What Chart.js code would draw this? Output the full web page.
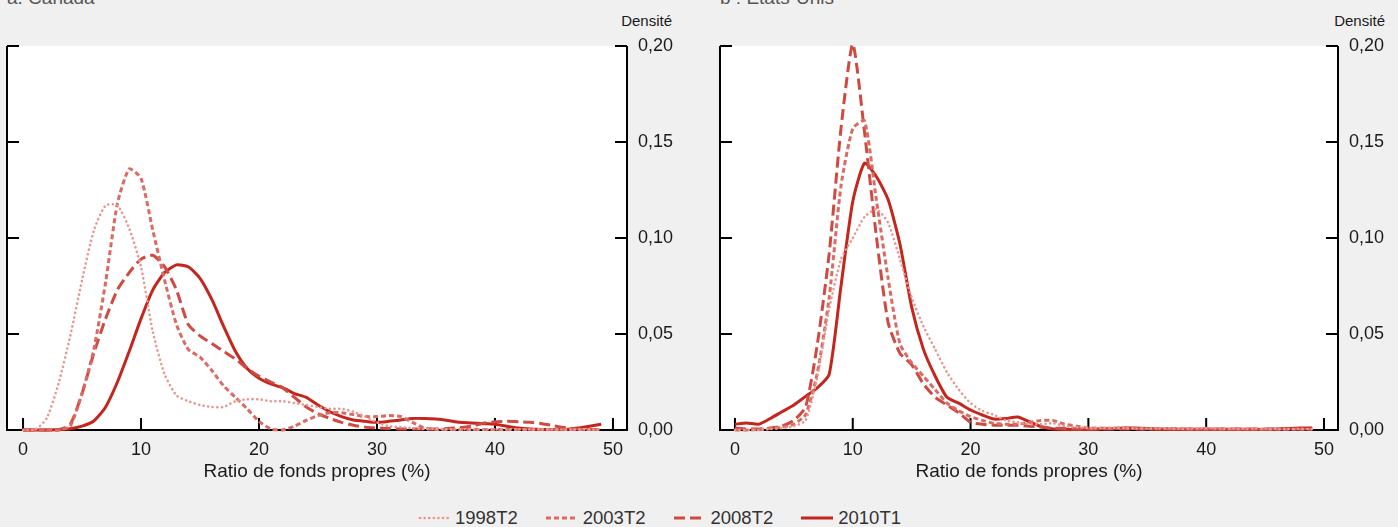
<!DOCTYPE html>
<html>
<head>
<meta charset="utf-8">
<script src="https://cdn.jsdelivr.net/npm/chart.js@4.4.0/dist/chart.umd.min.js"></script>
<style>
  body { margin: 0; background: #f0f0f0; width: 1398px; height: 527px; overflow: hidden; position: relative;
         font-family: "Liberation Sans", Arial, sans-serif; }
  canvas { position: absolute; top: 0; }
  .title { position: absolute; top: -12px; font-size: 19px; line-height: 1; color: #555; }
  .unit { position: absolute; top: 13px; font-size: 15px; line-height: 1; color: #1a1a1a; text-align: right; }
  #legend { position: absolute; left: 418px; top: 509px; display: flex; align-items: center; font-size: 18.5px; color: #333; line-height: 1; }
  #legend .item { display: flex; align-items: center; margin-right: 28px; }
  #legend svg { margin-right: 5px; }
</style>
</head>
<body>
<div class="title" style="left:7px">a. Canada</div>
<div class="title" style="left:720px">b : États-Unis</div>
<div class="unit" style="right:726px">Densité</div>
<div class="unit" style="right:13px">Densité</div>
<canvas id="canada" width="699" height="490" style="left:0"></canvas>
<canvas id="usa" width="699" height="490" style="left:699px"></canvas>
<div id="legend"></div>
<script>
// abscisses : ratio de fonds propres (%)
const ratios = [0, 1, 2, 3, 4, 5, 6, 7, 8, 9, 10, 11, 12, 13, 14, 15, 16, 17, 18, 19,
  20, 21, 22, 23, 24, 25, 26, 27, 28, 29, 30, 31, 32, 33, 34, 35, 36, 37, 38, 39,
  40, 41, 42, 43, 44, 45, 46, 47, 48, 49];

const xTicks = [0, 10, 20, 30, 40, 50];
const yTicks = [0, 0.05, 0.10, 0.15, 0.20];

const periods = ['1998T2', '2003T2', '2008T2', '2010T1'];

// a. Canada
const ca1998 = [0, 0, 0.006, 0.024, 0.049, 0.078, 0.104, 0.117, 0.117, 0.105, 0.085, 0.051, 0.029, 0.018, 0.015, 0.013, 0.012, 0.012, 0.015, 0.016,
  0.016, 0.015, 0.015, 0.014, 0.013, 0.012, 0.011, 0.011, 0.0095, 0.007, 0.004, 0.002, 0.0015, 0.001, 0.0005, 0.0005, 0.0004, 0.0004, 0.0003, 0.0003,
  0.0003, 0.0003, 0.0003, 0.0003, 0.0003, 0.0003, 0.0002, 0.0002, 0.0002, 0.0002];
const ca2003 = [0, 0, 0, 0, 0.002, 0.019, 0.042, 0.077, 0.118, 0.136, 0.131, 0.104, 0.078, 0.055, 0.042, 0.038, 0.031, 0.023, 0.017, 0.011,
  0.0045, 0.0005, 0, 0.002, 0.005, 0.0075, 0.009, 0.009, 0.008, 0.007, 0.007, 0.0075, 0.007, 0.004, 0.001, 0.0003, 0.0002, 0.0002, 0.0002, 0.0002,
  0.0002, 0.0002, 0.0002, 0.0002, 0.0002, 0.0002, 0.0002, 0.0002, 0.0002, 0.0002];
const ca2008 = [0, 0, 0, 0, 0.003, 0.019, 0.040, 0.058, 0.073, 0.082, 0.089, 0.091, 0.085, 0.073, 0.055, 0.049, 0.045, 0.041, 0.037, 0.032,
  0.028, 0.025, 0.022, 0.017, 0.012, 0.0085, 0.006, 0.004, 0.0025, 0.0015, 0.001, 0.0008, 0.0005, 0.0005, 0.0005, 0.0005, 0.0008, 0.0012, 0.002, 0.0035,
  0.0043, 0.0045, 0.0043, 0.004, 0.0033, 0.0022, 0.0012, 0.0005, 0.0003, 0.0003];
const ca2010 = [0, 0, 0, 0.0003, 0.0007, 0.002, 0.0047, 0.012, 0.025, 0.041, 0.058, 0.073, 0.082, 0.086, 0.085, 0.079, 0.068, 0.054, 0.041, 0.032,
  0.027, 0.024, 0.022, 0.019, 0.017, 0.013, 0.0095, 0.007, 0.0052, 0.0045, 0.004, 0.0045, 0.0052, 0.006, 0.006, 0.0057, 0.005, 0.004, 0.0037, 0.0033,
  0.003, 0.002, 0.001, 0.0005, 0.0003, 0.0003, 0.0003, 0.001, 0.002, 0.003];

// b : États-Unis
const us1998 = [0, 0, 0, 0.0005, 0.001, 0.002, 0.005, 0.028, 0.063, 0.089, 0.100, 0.111, 0.115, 0.108, 0.089, 0.069, 0.054, 0.042, 0.030, 0.021,
  0.014, 0.010, 0.0078, 0.005, 0.004, 0.003, 0.003, 0.0035, 0.002, 0.0015, 0.001, 0.001, 0.0012, 0.001, 0.0008, 0.0008, 0.001, 0.0008, 0.0006, 0.0008,
  0.001, 0.0008, 0.0006, 0.0006, 0.0008, 0.0006, 0.0005, 0.0005, 0.0005, 0.0005];
const us2003 = [0, 0, 0.0003, 0.0008, 0.0015, 0.003, 0.008, 0.030, 0.069, 0.127, 0.157, 0.161, 0.120, 0.079, 0.045, 0.035, 0.028, 0.021, 0.014, 0.010,
  0.007, 0.005, 0.0035, 0.003, 0.003, 0.004, 0.005, 0.005, 0.003, 0.002, 0.001, 0.001, 0.0008, 0.001, 0.0008, 0.0006, 0.0006, 0.0008, 0.0006, 0.0005,
  0.0005, 0.0005, 0.0005, 0.0005, 0.0005, 0.0004, 0.0004, 0.0004, 0.0004, 0.0004];
const us2008 = [0.001, 0.0005, 0.0005, 0.001, 0.002, 0.005, 0.012, 0.045, 0.092, 0.157, 0.201, 0.155, 0.101, 0.056, 0.040, 0.034, 0.024, 0.017, 0.013, 0.009,
  0.004, 0.003, 0.0025, 0.0025, 0.0025, 0.002, 0.0015, 0.001, 0.0008, 0.0006, 0.0005, 0.0005, 0.0005, 0.0005, 0.0005, 0.0005, 0.0005, 0.0005, 0.0005, 0.0005,
  0.0005, 0.0005, 0.0005, 0.0005, 0.0005, 0.0005, 0.0005, 0.0005, 0.0005, 0.0005];
const us2010 = [0.003, 0.0037, 0.003, 0.006, 0.0095, 0.013, 0.0175, 0.022, 0.029, 0.075, 0.119, 0.139, 0.132, 0.120, 0.097, 0.064, 0.042, 0.028, 0.017, 0.014,
  0.0104, 0.0078, 0.0057, 0.006, 0.0068, 0.0043, 0.0017, 0.0005, 0.0003, 0.0003, 0.0003, 0.0005, 0.0008, 0.001, 0.001, 0.0008, 0.0005, 0.0003, 0.0003, 0.0003,
  0.0003, 0.0003, 0.0003, 0.0003, 0.0003, 0.0003, 0.0005, 0.0008, 0.001, 0.001];

const styles = [
  { color: '#e8968f', width: 2.6, dash: [0.1, 4.5], cap: 'round' },
  { color: '#dc6a62', width: 3, dash: [5, 3], cap: 'butt' },
  { color: '#cf4a41', width: 3, dash: [11, 5], cap: 'butt' },
  { color: '#c4251c', width: 3, dash: [], cap: 'butt' }
];

const TICK_FONT = { family: '"Liberation Sans", Arial, sans-serif', size: 18 };
const TITLE_FONT = { family: '"Liberation Sans", Arial, sans-serif', size: 19 };

// fond blanc + cadre avec graduations vers l'intérieur
const framePlugin = {
  id: 'frame',
  beforeDraw(chart) {
    const { ctx, chartArea: a } = chart;
    ctx.save();
    ctx.fillStyle = '#ffffff';
    ctx.fillRect(a.left, a.top, a.right - a.left, a.bottom - a.top);
    ctx.restore();
  },
  beforeDatasetsDraw(chart) {
    const { ctx, chartArea: a, scales } = chart;
    ctx.save();
    ctx.strokeStyle = '#000';
    ctx.lineWidth = 2;
    ctx.beginPath();
    ctx.moveTo(a.left, a.top); ctx.lineTo(a.left, a.bottom); ctx.lineTo(a.right, a.bottom); ctx.lineTo(a.right, a.top);
    scales.y.ticks.forEach(t => {
      const py = scales.y.getPixelForValue(t.value);
      ctx.moveTo(a.left, py); ctx.lineTo(a.left + 12, py);
      ctx.moveTo(a.right - 12, py); ctx.lineTo(a.right, py);
    });
    scales.x.ticks.forEach(t => {
      const px = scales.x.getPixelForValue(t.value);
      ctx.moveTo(px, a.bottom); ctx.lineTo(px, a.bottom - 12);
    });
    ctx.stroke();
    ctx.restore();
  }
};

function makeChart(id, series, xMin, xMax, padLeft, yWidth) {
  const ctx = document.getElementById(id).getContext('2d');
  return new Chart(ctx, {
    type: 'line',
    data: {
      datasets: series.map((values, i) => ({
        label: periods[i],
        data: ratios.map((r, j) => ({ x: r, y: values[j] })),
        borderColor: styles[i].color,
        borderWidth: styles[i].width,
        borderDash: styles[i].dash,
        borderCapStyle: styles[i].cap,
        borderJoinStyle: 'round',
        pointRadius: 0,
        tension: 0.2,
        fill: false,
        clip: false
      }))
    },
    options: {
      responsive: false,
      animation: false,
      layout: { padding: { left: padLeft, top: 46, right: 0, bottom: 0 } },
      plugins: { legend: { display: false }, tooltip: { enabled: false } },
      scales: {
        x: {
          type: 'linear',
          min: xMin,
          max: xMax,
          grid: { display: false, drawTicks: false },
          border: { display: false },
          afterBuildTicks: scale => { scale.ticks = xTicks.map(v => ({ value: v })); },
          afterFit: scale => { scale.height = 60; },
          ticks: { autoSkip: false, maxRotation: 0, padding: 9, color: '#1a1a1a', font: TICK_FONT, callback: v => String(v) },
          title: { display: true, text: 'Ratio de fonds propres (%)', color: '#1a1a1a', font: TITLE_FONT, padding: { top: 0, bottom: 7 } }
        },
        y: {
          position: 'right',
          min: 0,
          max: 0.2,
          grid: { display: false, drawTicks: false },
          border: { display: false },
          afterBuildTicks: scale => { scale.ticks = yTicks.map(v => ({ value: v })); },
          afterFit: scale => { scale.width = yWidth; },
          ticks: { padding: 11, color: '#1a1a1a', font: TICK_FONT, callback: v => v.toFixed(2).replace('.', ',') }
        }
      }
    },
    plugins: [framePlugin]
  });
}

makeChart('canada', [ca1998, ca2003, ca2008, ca2010], -1.36, 51.19, 7, 72);
makeChart('usa', [us1998, us2003, us2008, us2010], -1.27, 51.19, 21, 60);

// légende commune
const legend = document.getElementById('legend');
periods.forEach((p, i) => {
  const s = styles[i];
  const item = document.createElement('div');
  item.className = 'item';
  item.innerHTML = '<svg width="32" height="10"><line x1="' + (s.cap === 'round' ? 2 : 0) + '" y1="5" x2="32" y2="5" stroke="' + s.color +
    '" stroke-width="' + s.width + '" stroke-linecap="' + s.cap + '" stroke-dasharray="' + (s.dash.length ? s.dash.join(' ') : 'none') + '"/></svg>' +
    '<span>' + p + '</span>';
  legend.appendChild(item);
});
</script>
</body>
</html>
